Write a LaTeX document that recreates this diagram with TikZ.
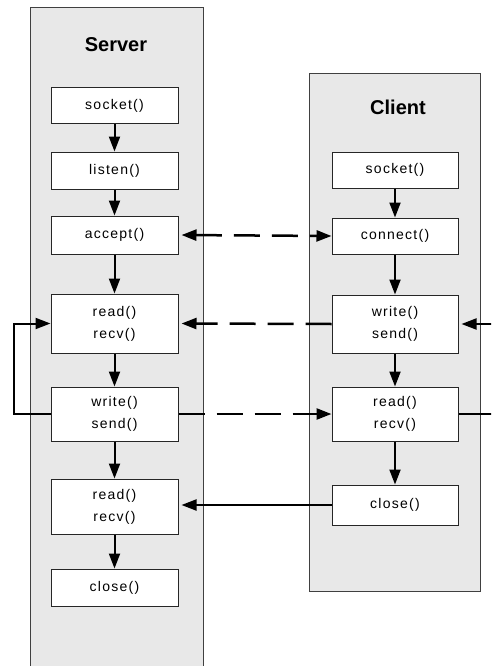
\documentclass[tikz,border=0pt]{standalone}
\usepackage{fontspec}
\setmainfont{Liberation Sans}
\usetikzlibrary{arrows.meta}
\newfontfamily\boxfnt[LetterSpace=9]{Liberation Sans}
\tikzset{
  panel/.style={fill=black!9, draw=black!75, line width=1pt},
  fbox/.style={draw=black!85, fill=white, line width=1pt, minimum width=127pt,
    align=center, inner sep=0pt, font=\boxfnt\fontsize{14}{22}\selectfont},
  ttl/.style={font=\bfseries\fontsize{20}{24}\selectfont},
  tip/.style={-{Triangle[length=15pt,width=11pt]}},
  flow/.style={tip, line width=2pt},
  msg/.style={line width=2.5pt, dash pattern=on 26pt off 12pt},
  solidmsg/.style={tip, line width=2pt}
}
\begin{document}
\begin{tikzpicture}[x=1pt,y=-1pt]
\useasboundingbox (0,0) rectangle (491,666);
\clip (0,0) rectangle (491,666);
% panels
\draw[panel] (30,8) rectangle (203,690);
\draw[panel] (309,74) rectangle (480,591);
\node[ttl] (st) at (116,45) {Server};
\node[ttl] (ct) at (398,107) {Client};
% server boxes
\node[fbox, minimum height=36pt] (ss) at (114.5,106) {socket()};
\node[fbox, minimum height=37pt] (sl) at (114.5,170.5) {listen()};
\node[fbox, minimum height=38pt] (sa) at (114.5,235) {accept()};
\node[fbox, minimum height=59pt] (sr1) at (114.5,323.5) {read()\\recv()};
\node[fbox, minimum height=54pt] (sw) at (114.5,414) {write()\\send()};
\node[fbox, minimum height=55pt] (sr2) at (114.5,506.5) {read()\\recv()};
\node[fbox, minimum height=37pt] (sc) at (114.5,587.5) {close()};
% client boxes
\node[fbox, minimum width=126pt, minimum height=36pt] (cs) at (395,170) {socket()};
\node[fbox, minimum width=126pt, minimum height=36pt] (cc) at (395,236) {connect()};
\node[fbox, minimum width=126pt, minimum height=58pt] (cw) at (395,324) {write()\\send()};
\node[fbox, minimum width=126pt, minimum height=54pt] (cr) at (395,414) {read()\\recv()};
\node[fbox, minimum width=126pt, minimum height=40pt] (ccl) at (395,505) {close()};
% server flow
\draw[flow] (ss) -- (sl);
\draw[flow] (sl) -- (sa);
\draw[flow] (sa) -- (sr1);
\draw[flow] (sr1) -- (sw);
\draw[flow] (sw) -- (sr2);
\draw[flow] (sr2) -- (sc);
% client flow
\draw[flow] (cs) -- (cc);
\draw[flow] (cc) -- (cw);
\draw[flow] (cw) -- (cr);
\draw[flow] (cr) -- (ccl);
% messages
\draw[msg, {Triangle[length=15pt,width=11pt]}-{Triangle[length=15pt,width=11pt]}, shorten <=3pt] (sa.east) -- (cc.west);
\draw[msg, tip, shorten >=3pt] (cw.west) -- (sr1.east);
\draw[msg, tip] (sw.east) -- (cr.west);
\draw[solidmsg, shorten >=3pt] (ccl.west) -- (sr2.east |- ccl.west);
% loops
\coordinate (ll) at (14,414);
\coordinate (lu) at (14,323.5);
\draw[flow] (sw.west) -- (ll) -- (lu) -- (sr1.west);
\coordinate (rl) at (505,414);
\coordinate (ru) at (505,324);
\draw[flow, shorten >=3pt] (cr.east) -- (rl) -- (ru) -- (cw.east);
\end{tikzpicture}
\end{document}
